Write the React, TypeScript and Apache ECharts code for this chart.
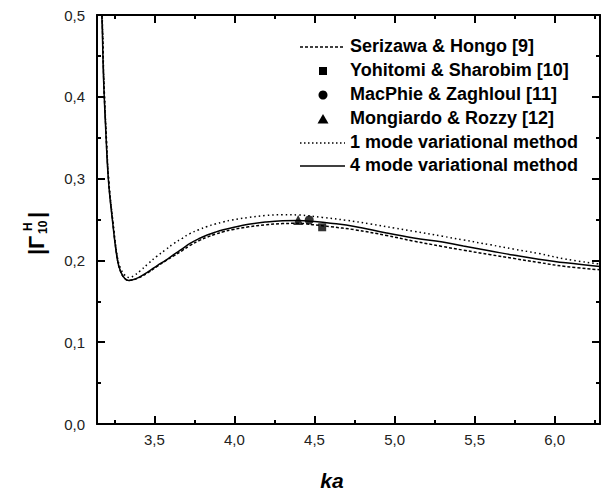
import React, { useEffect, useRef } from "react";
import * as echarts from "echarts";

// ---- data ----
const xMajorTicks = [3.5, 4.0, 4.5, 5.0, 5.5, 6.0];
const xMinorTicks = [3.25, 3.75, 4.25, 4.75, 5.25, 5.75, 6.25];

const serizawaKa = [3.156, 3.173, 3.183, 3.197, 3.214, 3.239, 3.27, 3.29, 3.315, 3.34, 3.36, 3.4, 3.46, 3.52, 3.57, 3.62, 3.674, 3.72, 3.777, 3.83, 3.88, 3.93, 3.985, 4.088, 4.192, 4.3, 4.4, 4.5, 4.6, 4.75, 4.95, 5.12, 5.3, 5.43, 5.6, 5.74, 5.9, 6.07, 6.283];
const serizawaVal = [0.56, 0.498, 0.425, 0.36, 0.298, 0.249, 0.2, 0.186, 0.178, 0.1755, 0.176, 0.1785, 0.185, 0.193, 0.1995, 0.2055, 0.212, 0.218, 0.224, 0.2285, 0.232, 0.235, 0.2375, 0.241, 0.2435, 0.245, 0.2453, 0.2435, 0.2412, 0.2375, 0.2305, 0.2235, 0.217, 0.2125, 0.207, 0.2025, 0.1975, 0.1925, 0.1885];

const oneModeKa = [3.157, 3.174, 3.184, 3.198, 3.215, 3.24, 3.27, 3.29, 3.315, 3.345, 3.37, 3.41, 3.461, 3.515, 3.57, 3.62, 3.674, 3.72, 3.777, 3.83, 3.88, 3.93, 3.985, 4.088, 4.192, 4.3, 4.4, 4.55, 4.7, 4.85, 5.0, 5.12, 5.3, 5.43, 5.6, 5.74, 5.9, 6.07, 6.283];
const oneModeVal = [0.56, 0.498, 0.425, 0.36, 0.298, 0.25, 0.203, 0.19, 0.182, 0.179, 0.181, 0.187, 0.196, 0.205, 0.213, 0.2205, 0.227, 0.2325, 0.2375, 0.2415, 0.2445, 0.247, 0.2494, 0.2525, 0.2548, 0.2558, 0.2555, 0.2525, 0.249, 0.2445, 0.2395, 0.2355, 0.2295, 0.225, 0.219, 0.214, 0.2085, 0.2015, 0.1955];

const fourModeKa = [3.155, 3.172, 3.182, 3.196, 3.213, 3.238, 3.269, 3.29, 3.315, 3.34, 3.36, 3.4, 3.46, 3.52, 3.57, 3.62, 3.674, 3.72, 3.777, 3.83, 3.88, 3.93, 3.985, 4.088, 4.192, 4.3, 4.4, 4.5, 4.6, 4.75, 4.95, 5.12, 5.3, 5.43, 5.6, 5.74, 5.9, 6.07, 6.283];
const fourModeVal = [0.56, 0.498, 0.425, 0.36, 0.298, 0.249, 0.2005, 0.186, 0.178, 0.1755, 0.176, 0.179, 0.186, 0.194, 0.2, 0.207, 0.214, 0.2205, 0.2265, 0.231, 0.2345, 0.2375, 0.24, 0.2441, 0.2468, 0.2485, 0.2488, 0.2475, 0.2455, 0.2415, 0.2335, 0.2275, 0.2225, 0.2175, 0.2115, 0.2065, 0.2015, 0.197, 0.1925];

const yohitomiPoint = [4.548, 0.2405];
const macphiePoint = [4.467, 0.2494];
const mongiardoPoint = [4.398, 0.2494];

const legendNames = [
  "Serizawa & Hongo [9]",
  "Yohitomi & Sharobim [10]",
  "MacPhie & Zaghloul [11]",
  "Mongiardo & Rozzy [12]",
  "1 mode variational method",
  "4 mode variational method",
];

const zip = (a: number[], b: number[]) => a.map((v, i) => [v, b[i]]);

const FONT = "Liberation Sans, Arial, Helvetica, sans-serif";
const fmt = (v: number) => v.toFixed(1).replace(".", ",");

export default function App() {
  const ref = useRef<HTMLDivElement>(null);
  useEffect(() => {
    if (!ref.current) return;
    const chart = echarts.init(ref.current, null, { renderer: "svg" });
    const axisLine = { show: true, onZero: false, lineStyle: { color: "#000", width: 2 } };
    const noLine = { show: false, onZero: false };
    const tickStyle = { color: "#000", width: 2 };
    const xBase = {
      type: "value",
      min: Math.PI,
      max: 2 * Math.PI,
      splitLine: { show: false },
    };
    const yBase = {
      type: "value",
      min: 0,
      max: 0.5,
      interval: 0.1,
      splitLine: { show: false },
      axisLine,
      axisTick: { show: true, inside: true, length: 8, lineStyle: tickStyle },
      minorTick: { show: true, splitNumber: 2, length: 4, lineStyle: tickStyle },
    };
    const ly = [47, 71, 95, 119, 143, 166];
    const legendText = (i: number) => ({
      type: "text",
      left: 350,
      top: ly[i] - 10,
      style: {
        text: legendNames[i],
        fontFamily: FONT,
        fontSize: 18,
        fontWeight: "bold",
        fill: "#000",
      },
    });
    const option: any = {
      animation: false,
      backgroundColor: "#fff",
      grid: { left: 97, top: 15, right: 3, bottom: 66, containLabel: false, outerBoundsMode: "none" },
      xAxis: [
        {
          ...xBase,
          position: "bottom",
          axisLine,
          axisTick: { show: true, inside: true, length: 8, customValues: xMajorTicks, lineStyle: tickStyle },
          axisLabel: {
            show: true,
            customValues: xMajorTicks,
            formatter: fmt,
            margin: 8,
            fontFamily: FONT,
            fontSize: 15,
            color: "#222",
          },
        },
        {
          ...xBase,
          position: "bottom",
          axisLine: noLine,
          axisTick: { show: true, inside: true, length: 4, customValues: xMinorTicks, lineStyle: tickStyle },
          axisLabel: { show: false },
        },
        {
          ...xBase,
          position: "top",
          axisLine,
          axisTick: { show: true, inside: true, length: 8, customValues: xMajorTicks, lineStyle: tickStyle },
          axisLabel: { show: false },
        },
        {
          ...xBase,
          position: "top",
          axisLine: noLine,
          axisTick: { show: true, inside: true, length: 4, customValues: xMinorTicks, lineStyle: tickStyle },
          axisLabel: { show: false },
        },
      ],
      yAxis: [
        {
          ...yBase,
          position: "left",
          axisLabel: {
            show: true,
            formatter: fmt,
            margin: 12,
            fontFamily: FONT,
            fontSize: 15,
            color: "#222",
          },
        },
        {
          ...yBase,
          position: "right",
          axisLabel: { show: false },
        },
      ],
      series: [
        {
          name: legendNames[0],
          type: "line",
          data: zip(serizawaKa, serizawaVal),
          symbol: "none",
          smooth: 0.4,
          lineStyle: { color: "#000", width: 1.5, type: [3, 2] },
        },
        {
          name: legendNames[1],
          type: "scatter",
          data: [yohitomiPoint],
          symbol: "rect",
          symbolSize: 8,
          itemStyle: { color: "#000" },
        },
        {
          name: legendNames[2],
          type: "scatter",
          data: [macphiePoint],
          symbol: "circle",
          symbolSize: 9,
          itemStyle: { color: "#000" },
        },
        {
          name: legendNames[3],
          type: "scatter",
          data: [mongiardoPoint],
          symbol: "triangle",
          symbolSize: 10,
          itemStyle: { color: "#000" },
        },
        {
          name: legendNames[4],
          type: "line",
          data: zip(oneModeKa, oneModeVal),
          symbol: "none",
          smooth: 0.4,
          lineStyle: { color: "#000", width: 1.5, type: [1.5, 3] },
        },
        {
          name: legendNames[5],
          type: "line",
          data: zip(fourModeKa, fourModeVal),
          symbol: "none",
          smooth: 0.4,
          lineStyle: { color: "#000", width: 1.5 },
        },
      ],
      graphic: [
        { type: "line", shape: { x1: 300, y1: ly[0], x2: 345, y2: ly[0] }, style: { stroke: "#000", lineWidth: 1.5, lineDash: [3, 2] } },
        { type: "rect", shape: { x: 319, y: ly[1] - 4, width: 8, height: 8 }, style: { fill: "#000" } },
        { type: "circle", shape: { cx: 323, cy: ly[2], r: 4.5 }, style: { fill: "#000" } },
        { type: "polygon", shape: { points: [[317.5, ly[3] + 4.5], [328.5, ly[3] + 4.5], [323, ly[3] - 5]] }, style: { fill: "#000" } },
        { type: "line", shape: { x1: 300, y1: ly[4], x2: 345, y2: ly[4] }, style: { stroke: "#000", lineWidth: 1.5, lineDash: [1.5, 2.5] } },
        { type: "line", shape: { x1: 300, y1: ly[5], x2: 345, y2: ly[5] }, style: { stroke: "#000", lineWidth: 1.5 } },
        legendText(0),
        legendText(1),
        legendText(2),
        legendText(3),
        legendText(4),
        legendText(5),
        {
          type: "text",
          x: 332,
          y: 480,
          style: {
            text: "ka",
            fontFamily: FONT,
            fontSize: 21,
            fontWeight: "bold",
            fontStyle: "italic",
            fill: "#000",
            align: "center",
            verticalAlign: "middle",
          },
        },
        {
          type: "group",
          x: 47,
          y: 255,
          rotation: Math.PI / 2,
          children: [
            { type: "text", x: 0, y: -11, style: { text: "|", fontFamily: FONT, fontSize: 22, fontWeight: "bold", fill: "#000", align: "left", verticalAlign: "middle" } },
            { type: "text", x: 6, y: -11, style: { text: "Γ", fontFamily: FONT, fontSize: 22, fontWeight: "bold", fill: "#000", align: "left", verticalAlign: "middle" } },
            { type: "text", x: 21, y: -4, style: { text: "10", fontFamily: FONT, fontSize: 12, fontWeight: "bold", fill: "#000", align: "left", verticalAlign: "middle" } },
            { type: "text", x: 24, y: -19, style: { text: "H", fontFamily: FONT, fontSize: 12, fontWeight: "bold", fill: "#000", align: "left", verticalAlign: "middle" } },
            { type: "text", x: 37, y: -11, style: { text: "|", fontFamily: FONT, fontSize: 22, fontWeight: "bold", fill: "#000", align: "left", verticalAlign: "middle" } },
          ],
        },
      ],
    };
    chart.setOption(option);
    return () => chart.dispose();
  }, []);
  return (
    <div
      ref={ref}
      style={{ position: "fixed", left: 0, top: 0, width: 603, height: 490, background: "#fff" }}
    />
  );
}
